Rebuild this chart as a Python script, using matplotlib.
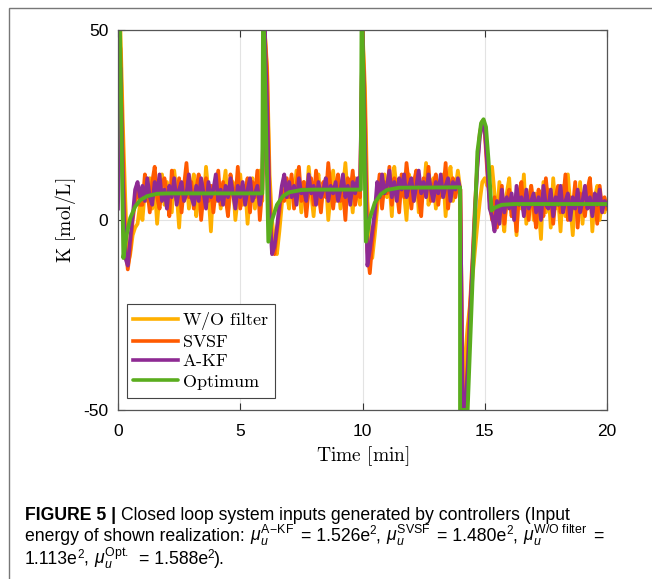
import numpy as np
import matplotlib.pyplot as plt
from matplotlib.patches import Rectangle
from matplotlib.transforms import IdentityTransform

plt.rcParams['font.family'] = ['Liberation Sans', 'DejaVu Sans']
plt.rcParams['axes.unicode_minus'] = False
plt.rcParams['mathtext.fontset'] = 'custom'
plt.rcParams['mathtext.rm'] = 'Liberation Sans'
plt.rcParams['mathtext.it'] = 'Liberation Sans:italic'
plt.rcParams['mathtext.bf'] = 'Liberation Sans:bold'

# sampled controller inputs, one value every 0.1 min
t = np.linspace(0, 20, 201)

akf = [3, 40, 10, -10, -12, -5, 1, 8, 10, 6,
       9, 5, 11, 6, 4, 10, 7, 12, 5, 8,
       3, 9, 6, 11, 4, 8, 10, 5, 7, 12,
       6, 4, 9, 5, 11, 7, 3, 10, 6, 8,
       12, 5, 8, 4, 9, 6, 11, 7, 3, 9,
       6, 10, 4, 8, 11, 5, 7, 9, 4, 8,
       50, 30, 2, -9, -7, -2, 4, 9, 12, 6,
       10, 6, 9, 4, 11, 7, 8, 5, 12, 7,
       9, 4, 10, 6, 8, 11, 5, 9, 7, 10,
       5, 8, 12, 6, 9, 4, 10, 7, 11, 8,
       50, 20, -12, -8, -3, 2, 10, 6, 12, 7,
       9, 13, 6, 10, 5, 11, 8, 12, 6, 9,
       11, 5, 9, 13, 7, 10, 6, 12, 8, 5,
       10, 7, 12, 6, 9, 11, 5, 10, 8, 11,
       8, -50, -50, -40, -25, -12, 2, 14, 22, 25,
       24, 15, 3, 1, -3, 5, -1, 8, 2, 6,
       3, 7, 0, 9, 4, 6, 1, 8, 3, 5,
       7, 2, 6, 0, 9, 4, 3, 8, 1, 6,
       4, 9, 2, 5, 7, 0, 6, 3, 8, 2,
       5, 9, 3, 6, 1, 7, 4, 8, 2, 5,
       4]

svsf = [50, 45, 18, -6, -13, -8, 0, 5, 9, 4,
        4, 12, 8, 2, 10, 14, 6, 3, 9, 11,
        7, 1, 13, 8, 5, 11, 2, 9, 15, 6,
        10, 3, 8, 12, 0, 7, 11, 5, 9, 2,
        8, 13, 4, 10, 6, 1, 12, 8, 5, 14,
        3, 9, 7, 11, 2, 10, 6, 13, 0, 8,
        50, 38, 5, -7, -9, -3, 2, 8, 5, 11,
        6, 12, 3, 9, 14, 5, 10, 1, 8, 11,
        4, 13, 7, 2, 10, 6, 15, 8, 3, 9,
        12, 5, 8, 0, 11, 7, 13, 4, 9, 6,
        50, 30, -8, -14, -6, 0, 6, 12, 3, 10,
        7, 14, 4, 11, 8, 2, 12, 6, 15, 9,
        3, 10, 13, 6, 1, 11, 8, 14, 5, 9,
        12, 4, 10, 7, 15, 3, 9, 11, 6, 10,
        8, -50, -50, -38, -22, -10, 4, 15, 23, 26,
        23, 13, 5, 0, 6, -2, 3, 9, -1, 5,
        8, 1, 4, -3, 7, 10, 2, 6, 0, 9,
        3, -2, 8, 5, 1, 11, 4, 7, -1, 6,
        9, 2, 5, 12, 0, 6, 3, 10, -2, 7,
        4, 1, 8, 11, 2, 6, -1, 9, 3, 6,
        3]

wo_filter = [50, 50, 25, 5, -12, -9, -4, -2, -1, 4,
             0, 8, 5, 11, 3, 9, -1, 7, 12, 4,
             10, 6, 2, 13, 7, -2, 9, 5, 11, 3,
             8, 12, 1, 6, 10, 4, 14, 7, -3, 9,
             5, 11, 3, 8, 13, 2, 7, 10, 0, 6,
             12, 4, 9, -1, 7, 11, 3, 8, 13, 5,
             50, 40, 12, 0, -6, -9, -3, 4, 10, 7,
             3, 11, 6, 13, 8, 2, 10, 5, 14, 7,
             1, 9, 12, 4, 8, 11, 0, 7, 13, 5,
             10, 3, 8, 15, 6, 9, 2, 11, 7, 4,
             50, 35, 5, -5, -10, -4, 3, 9, 5, 12,
             6, 10, 1, 14, 8, 4, 11, 7, 0, 12,
             9, 5, 13, 2, 10, 7, 15, 4, 8, 11,
             3, 9, 6, 12, 1, 10, 14, 5, 8, 13,
             8, -50, -36, -28, -22, -15, -8, -1, 5, 10,
             11, 9, 13, 14, 7, 0, 10, 2, -3, 7,
             11, 1, 5, -4, 8, 3, 12, -1, 6, 9,
             0, 7, 4, -5, 10, 2, 8, -2, 11, 3,
             6, -3, 9, 1, 12, 4, -4, 7, 2, 10,
             -1, 8, 3, 11, -3, 6, 9, 0, 5, 2,
             5]

# optimal input, given at its break points
opt_t = [0, 0.08, 0.22, 0.35, 0.5, 0.7, 0.9, 1.2, 1.6, 2.0, 5.9,
         5.93, 5.97, 6.15, 6.3, 6.5, 6.75, 7.0, 7.5, 8.0, 9.93,
         9.96, 10.0, 10.14, 10.3, 10.5, 10.75, 11.0, 11.5, 13.99,
         13.99, 14.3, 14.7, 14.85, 14.95, 15.05, 15.15, 15.28, 15.4,
         15.7, 16.2, 20]
opt_v = [50, 50, -10, -4, 0.5, 3.5, 5.2, 6.3, 6.9, 7, 7,
         50, 50, -5.7, 0, 4, 6.3, 7.3, 7.9, 8, 8,
         50, 50, -5.7, 0.5, 4.5, 6.8, 7.9, 8.5, 8.6,
         -50, -50, 18, 25.5, 26.5, 24.5, 16, 2.5, 3.2,
         4, 4.2, 4.2]

colors = ['#ffb000', '#ff5a00', '#8e2a93', '#5aad1e']

fig = plt.figure(figsize=(6.52, 5.79), dpi=100)
ax = fig.add_axes([118 / 652, 1 - 410 / 579, 489 / 652, 380 / 579])

ax.plot(t, wo_filter, color=colors[0], lw=2.7, label=r'$\text{W/O filter}$')
ax.plot(t, svsf, color=colors[1], lw=2.7, label=r'$\text{SVSF}$')
ax.plot(t, akf, color=colors[2], lw=2.7, label=r'$\text{A-KF}$')
ax.plot(opt_t, opt_v, color=colors[3], lw=2.8, label=r'$\text{Optimum}$',
        solid_joinstyle='round', solid_capstyle='round')

ax.set_xlim(0, 20)
ax.set_ylim(-50, 50)
ax.set_xticks([0, 5, 10, 15, 20])
ax.set_yticks([-50, 0, 50])
ax.grid(True, color='#e3e3e3', lw=0.8)
ax.set_axisbelow(True)
ax.tick_params(direction='in', top=True, right=True, length=5, width=0.8,
               color='#333333', labelsize=12.5)
ax.tick_params(axis='x', pad=10)
ax.tick_params(axis='y', pad=7)
for s in ax.spines.values():
    s.set_color('#555555')
    s.set_linewidth(0.9)

ax.set_xlabel(r'$\text{Time [min]}$', fontsize=14, math_fontfamily='cm', labelpad=4)
ax.set_ylabel(r'$\text{K [mol/L]}$', fontsize=14, math_fontfamily='cm', labelpad=3.5)

leg = ax.legend(loc='lower left', bbox_to_anchor=(0.018, 0.032), borderaxespad=0,
                fancybox=False, edgecolor='#444444', framealpha=1,
                handlelength=2.5, handletextpad=0.2, labelspacing=0.12,
                borderpad=0.35, prop={'size': 13, 'math_fontfamily': 'cm'})
leg.get_frame().set_linewidth(0.8)
for line in leg.get_lines():
    line.set_linewidth(2.6)

# caption under the plot, laid out run by run in pixel coordinates
fs = 12.7
px = IdentityTransform()
renderer = fig.canvas.get_renderer()


def run_width(s, **kw):
    a = fig.text(0, 0, '|' + s + '|', transform=px, **kw)
    b = fig.text(0, 0, '||', transform=px, **kw)
    w = a.get_window_extent(renderer).width - b.get_window_extent(renderer).width
    a.remove()
    b.remove()
    return w


def caption_line(x, y, runs):
    y = 579 - y
    for s, kind in runs:
        kw = dict(fontsize=fs)
        dy = 0
        gap = 0
        if kind == 'b':
            kw['fontweight'] = 'bold'
        elif kind == 'sup':
            kw['fontsize'] = fs * 0.66
            dy = 6.5
        elif kind == 'mu':
            s = r'$\mu_u^{\mathrm{%s}}$' % s
            gap = 3
        body = s.lstrip()
        x += run_width(s[:len(s) - len(body)], **kw)
        fig.text(x, y + dy, body, transform=px, **kw)
        x += run_width(body, **kw) + gap


caption_line(25, 520, [('FIGURE 5 |', 'b'),
                       (' Closed loop system inputs generated by controllers (Input', 'n')])
caption_line(25, 541, [('energy of shown realization: ', 'n'), (r'A\!-\!KF', 'mu'),
                       (' = 1.526e', 'n'), ('2', 'sup'), (', ', 'n'),
                       ('SVSF', 'mu'), (' = 1.480e', 'n'), ('2', 'sup'), (', ', 'n'),
                       (r'W/O\ filter', 'mu'), (' =', 'n')])
caption_line(25, 564, [('1.113e', 'n'), ('2', 'sup'), (', ', 'n'), ('Opt.', 'mu'),
                       (' = 1.588e', 'n'), ('2', 'sup'), (').', 'n')])

fig.add_artist(Rectangle((9 / 652, -0.1), 1.2, 1.1 - 8 / 579,
                         transform=fig.transFigure, fill=False,
                         edgecolor='#777777', lw=1))

fig.savefig('out.png', dpi=100)
